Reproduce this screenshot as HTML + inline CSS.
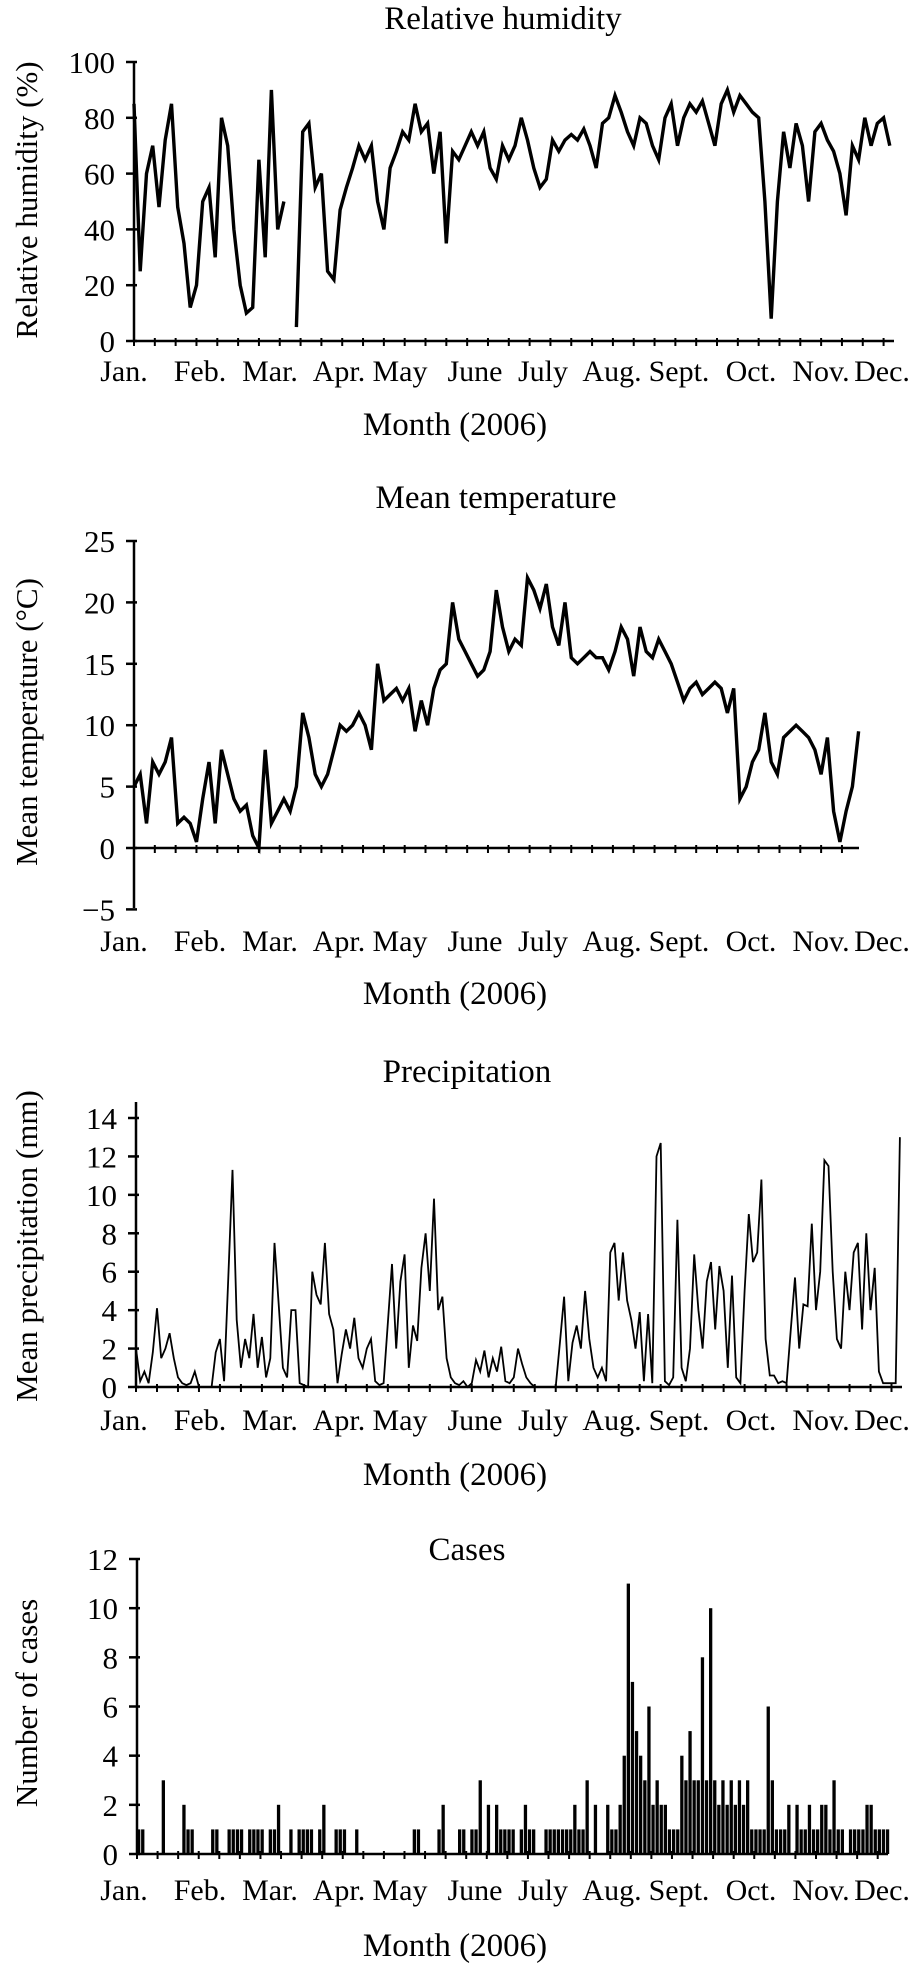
<!DOCTYPE html>
<html><head><meta charset="utf-8"><style>
html,body{margin:0;padding:0;background:#fff;}
svg{display:block;}
text{font-family:"Liberation Serif",serif;fill:#000;}
</style></head><body>
<svg id="fig" width="914" height="1964" viewBox="0 0 914 1964" xmlns="http://www.w3.org/2000/svg"></svg>
<script>
const months = ["Jan.","Feb.","Mar.","Apr.","May","June","July","Aug.","Sept.","Oct.","Nov.","Dec."];
// humidity every 3 days (%)
const humidity = [85,25,60,70,48,72,85,48,35,12,20,50,55,30,80,70,40,20,10,12,65,30,90,40,50,null,5,75,78,55,60,25,22,47,55,62,70,65,70,50,40,62,68,75,72,85,75,78,60,75,35,68,65,70,75,70,75,62,58,70,65,70,80,72,62,55,58,72,68,72,74,72,76,70,62,78,80,88,82,75,70,80,78,70,65,80,85,70,80,85,82,86,78,70,85,90,82,88,85,82,80,50,8,50,75,62,78,70,50,75,78,72,68,60,45,70,65,80,70,78,80,70];
const humStep = 3;
// mean temperature every 3 days (°C)
const temperature = [5,6,2,7,6,7,9,2,2.5,2,0.5,4,7,2,8,6,4,3,3.5,1,0,8,2,3,4,3,5,11,9,6,5,6,8,10,9.5,10,11,10,8,15,12,12.5,13,12,13,9.5,12,10,13,14.5,15,20,17,16,15,14,14.5,16,21,18,16,17,16.5,22,21,19.5,21.5,18,16.5,20,15.5,15,15.5,16,15.5,15.5,14.5,16,18,17,14,18,16,15.5,17,16,15,13.5,12,13,13.5,12.5,13,13.5,13,11,13,4,5,7,8,11,7,6,9,9.5,10,9.5,9,8,6,9,3,0.5,3,5,9.5];
const tempStep = 3;
// precipitation every 2 days (mm)
const precipitation = [2,0.3,0.8,0.2,1.8,4.1,1.5,2,2.8,1.5,0.5,0.2,0.1,0.2,0.8,0,0,0,0,1.8,2.5,0.3,5.7,11.3,3.5,1,2.5,1.5,3.8,1,2.6,0.5,1.5,7.5,4.3,1,0.5,4,4,0.2,0.1,0,6,4.8,4.3,7.5,3.8,3,0.2,1.7,3,2,3.6,1.5,1,2,2.5,0.3,0.1,0.2,3.3,6.4,2,5.5,6.9,1,3.2,2.4,6.2,8,5,9.8,4,4.7,1.5,0.5,0.2,0.1,0.3,0,0.2,1.4,0.8,1.9,0.5,1.5,0.8,2.1,0.3,0.2,0.5,2,1.2,0.5,0.2,0,0,0,0,0,0,2.3,4.7,0.3,2.3,3.2,2,5,2.5,1,0.5,1,0.3,7,7.5,4.5,7,4.5,3.5,2,3.9,0.3,3.8,0.2,12,12.7,0.3,0.1,0.5,8.7,1,0.3,2,6.9,4,2,5.5,6.5,3,6.3,5,1,5.8,0.5,0.2,5,9,6.5,7,10.8,2.5,0.6,0.6,0.2,0.3,0.2,3,5.7,2,4.3,4.2,8.5,4,6,11.8,11.5,6,2.5,2,6,4,7,7.5,3,8,4,6.2,0.8,0.2,0.2,0.2,0.2,13];
const precStep = 2;
// cases every 2 days
const cases = [1,1,0,0,0,0,3,0,0,0,0,2,1,1,0,0,0,0,1,1,0,0,1,1,1,1,0,1,1,1,1,0,1,1,2,0,0,1,0,1,1,1,1,0,1,2,0,0,1,1,1,0,0,1,0,0,0,0,0,0,0,0,0,0,0,0,0,1,1,0,0,0,0,1,2,0,0,0,1,1,0,1,1,3,0,2,0,2,1,1,1,1,0,1,2,1,1,0,0,1,1,1,1,1,1,1,2,1,1,3,0,2,0,0,2,1,1,2,4,11,7,5,4,3,6,2,3,2,2,1,1,1,4,3,5,3,3,8,3,10,3,2,3,2,3,2,3,2,3,1,1,1,1,6,3,1,1,1,2,0,2,1,1,2,1,1,2,2,1,3,1,1,0,1,1,1,1,2,2,1,1,1,1];
const caseStep = 2;
const humTicks = [0,20,40,60,80,100];
const tempTicks = [-5,0,5,10,15,20,25];
const precTicks = [0,2,4,6,8,10,12,14];
const caseTicks = [0,2,4,6,8,10,12];

const NS = "http://www.w3.org/2000/svg";
const svg = document.getElementById('fig');
const monthX = [124,200,270,339,400,475,543,612,679,751,821,882];
function mk(tag, attrs, parent){const e=document.createElementNS(NS,tag);for(const k in attrs)e.setAttribute(k,attrs[k]);(parent||svg).appendChild(e);return e;}
function txt(s,attrs,parent){const t=mk('text',attrs,parent);t.textContent=s;return t;}

function chart(c){
  const g = mk('g',{});
  
  
  const ys = v => c.y0 - (v - c.vmin) / (c.vmax - c.vmin) * (c.y0 - c.y1);
  const pxDay = c.pxDay;
  const xs = d => c.x0 + d * pxDay;
  const t = txt(c.title,{x:c.titleX,y:c.titleY,'font-size':33,'text-anchor':'middle'},g);
  
  
  const ya = mk('line',{x1:c.x0,x2:c.x0,y1:c.yTop,y2:c.yBot,stroke:'#000','stroke-width':2.5},g);
  
  
  c.ticks.forEach(v=>{
    const y=ys(v);
    mk('line',{x1:c.x0-8,x2:c.x0+3,y1:y,y2:y,stroke:'#000','stroke-width':2.5},g);
    const tl = txt(v<0?'\u2212'+Math.abs(v):String(v),{x:c.x0-19,y:y+11,'font-size':31,'text-anchor':'end'},g);
    
    
  });
  const yz = ys(0);
  const xa = mk('line',{x1:c.x0,x2:c.xEnd,y1:yz,y2:yz,stroke:'#000','stroke-width':2.5},g);
  
  
  for(let d=0; xs(d)<=c.xEnd+1; d+=10){
    mk('line',{x1:xs(d),x2:xs(d),y1:yz-3,y2:yz+5,stroke:'#000','stroke-width':2},g);
  }
  const data=c.data, step=c.step;
  if(c.type==='line'){
    let dstr='', pen=false;
    data.forEach((v,i)=>{
      if(v===null){pen=false;return;}
      dstr += (pen?'L':'M') + xs(i*step).toFixed(1) + ' ' + ys(v).toFixed(1) + ' ';
      pen=true;
    });
    const p = mk('path',{d:dstr,fill:'none',stroke:'#000','stroke-width':c.sw,'stroke-linejoin':'miter'},g);
    
    
  } else {
    data.forEach((v,i)=>{
      if(v<=0) return;
      const b = mk('rect',{x:xs(i*step).toFixed(1),y:ys(v).toFixed(1),width:(step*pxDay*0.8).toFixed(1),height:(yz-ys(v)).toFixed(1),fill:'#000'},g);
      
      
    });
  }
  months.forEach((m,i)=>{
    const ml = txt(m,{x:monthX[i],y:c.labY,'font-size':30,'text-anchor':'middle'},g);
    
    
  });
  const xt = txt('Month (2006)',{x:455,y:c.monthY,'font-size':33,'text-anchor':'middle'},g);
  
  
  const yt = txt(c.ylab,{x:0,y:0,'font-size':31,'text-anchor':'middle',transform:`translate(37,${c.ylabY}) rotate(-90)`},g);
  
  
}

chart({name:'humidity-chart',title:'Relative humidity',titleX:503,titleY:29,x0:134,xEnd:894,pxDay:760/365,
  vmin:0,vmax:100,y0:341,y1:62,yTop:62,yBot:341,ticks:humTicks,data:humidity,step:humStep,type:'line',sw:3.4,
  seriesName:'humidity-line',labY:381,monthY:435,ylab:'Relative humidity (%)',ylabY:200});
chart({name:'temperature-chart',title:'Mean temperature',titleX:496,titleY:508,x0:134,xEnd:859,pxDay:760/365,
  vmin:0,vmax:25,y0:848,y1:541,yTop:541,yBot:908,ticks:tempTicks,data:temperature,step:tempStep,type:'line',sw:3.4,
  seriesName:'temperature-line',labY:951,monthY:1004,ylab:'Mean temperature (\u00B0C)',ylabY:722});
chart({name:'precipitation-chart',title:'Precipitation',titleX:467,titleY:1082,x0:136,xEnd:902,pxDay:766/365,
  vmin:0,vmax:14,y0:1387,y1:1118,yTop:1102,yBot:1387,ticks:precTicks,data:precipitation,step:precStep,type:'line',sw:1.8,
  seriesName:'precipitation-line',labY:1430,monthY:1485,ylab:'Mean precipitation (mm)',ylabY:1246});
chart({name:'cases-chart',title:'Cases',titleX:467,titleY:1560,x0:137,xEnd:888,pxDay:751/365,
  vmin:0,vmax:12,y0:1854,y1:1559,yTop:1559,yBot:1854,ticks:caseTicks,data:cases,step:caseStep,type:'bar',sw:1,
  seriesName:'cases-bars',labY:1900,monthY:1956,ylab:'Number of cases',ylabY:1703});
</script>
</body></html>
